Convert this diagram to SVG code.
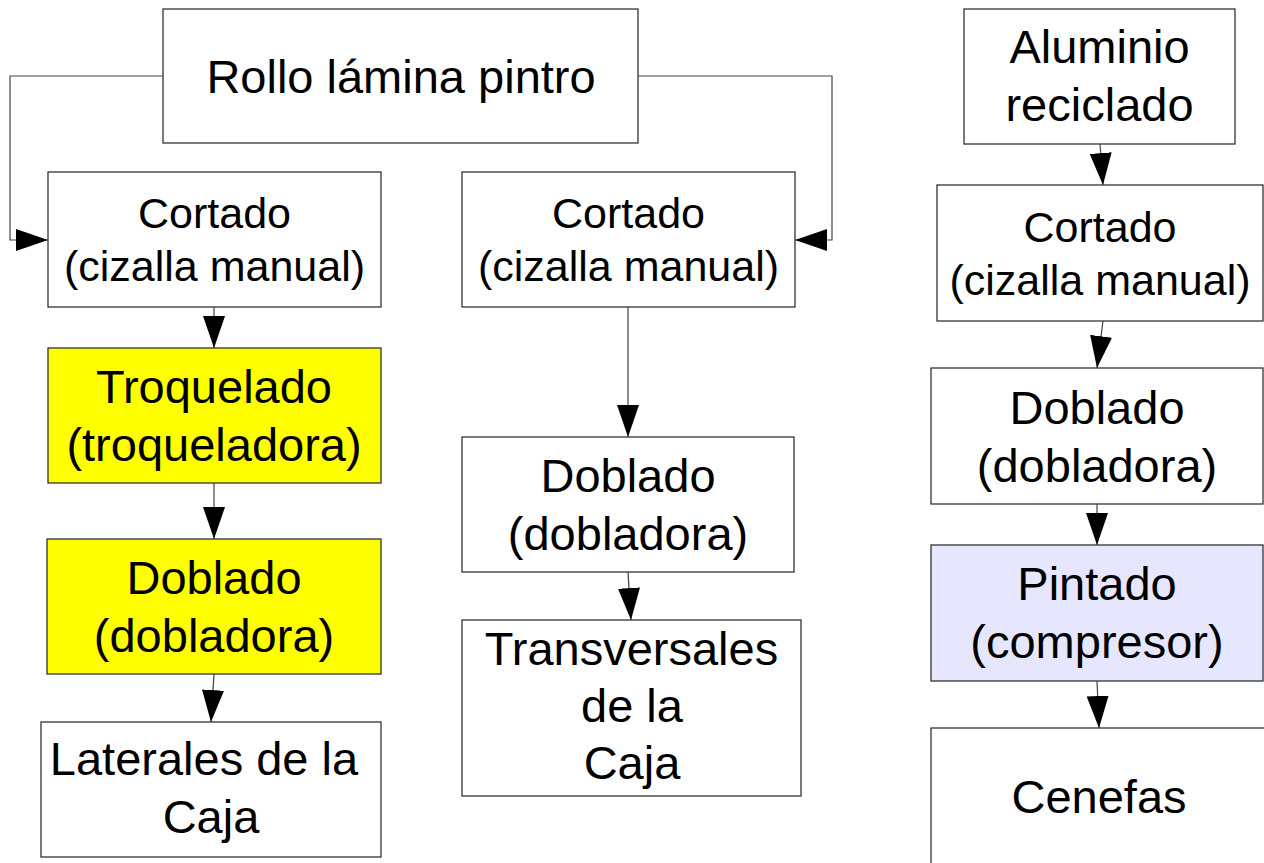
<svg xmlns="http://www.w3.org/2000/svg" width="1264" height="863" viewBox="0 0 1264 863">
<style>
.box{fill:#ffffff;stroke:#333333;stroke-width:1.3}
.yel{fill:#ffff00}
.blu{fill:#e6e6ff}
.t{font-family:"Liberation Sans",Arial,sans-serif;font-size:47px;fill:#000;text-anchor:middle}
.s{font-size:43px}
.c{fill:none;stroke:#444444;stroke-width:1.2}
</style>
<defs>
<marker id="ah" markerUnits="userSpaceOnUse" markerWidth="33" markerHeight="23" refX="32" refY="11" orient="auto">
<path d="M0,0 L32,11 L0,22 z" fill="#000"/>
</marker>
</defs>
<rect width="1264" height="863" fill="#ffffff"/>
<g id="connectors">
<path class="c" d="M163,76 H10 V240 H48" marker-end="url(#ah)"/>
<path class="c" d="M638,76 H832 V240 H795" marker-end="url(#ah)"/>
<line class="c" x1="214" y1="307" x2="214" y2="348" marker-end="url(#ah)"/>
<line class="c" x1="214" y1="483" x2="214" y2="539" marker-end="url(#ah)"/>
<line class="c" x1="214" y1="674" x2="211" y2="722" marker-end="url(#ah)"/>
<line class="c" x1="628" y1="307" x2="628" y2="437" marker-end="url(#ah)"/>
<line class="c" x1="628" y1="572" x2="631" y2="620" marker-end="url(#ah)"/>
<line class="c" x1="1100" y1="144" x2="1103" y2="185" marker-end="url(#ah)"/>
<line class="c" x1="1103" y1="321" x2="1097" y2="368" marker-end="url(#ah)"/>
<line class="c" x1="1097" y1="504" x2="1097" y2="545" marker-end="url(#ah)"/>
<line class="c" x1="1097" y1="681" x2="1099" y2="728" marker-end="url(#ah)"/>
</g>
<g id="rollo">
<rect class="box" x="163" y="9" width="475" height="134"/>
<text class="t" x="401" y="93">Rollo lámina pintro</text>
</g>
<g id="cortado1">
<rect class="box" x="48" y="172" width="333" height="135"/>
<text class="t s" x="214.5" y="228">Cortado</text>
<text class="t s" x="214.5" y="281">(cizalla manual)</text>
</g>
<g id="troquelado">
<rect class="box yel" x="48" y="348" width="333" height="135"/>
<text class="t" x="214" y="403">Troquelado</text>
<text class="t" x="214" y="461">(troqueladora)</text>
</g>
<g id="doblado1">
<rect class="box yel" x="47" y="539" width="334" height="135"/>
<text class="t" x="214" y="594">Doblado</text>
<text class="t" x="214" y="652">(dobladora)</text>
</g>
<g id="laterales">
<rect class="box" x="41" y="722" width="340" height="135"/>
<text class="t" x="204" y="775">Laterales de la</text>
<text class="t" x="211" y="833">Caja</text>
</g>
<g id="cortado2">
<rect class="box" x="462" y="172" width="333" height="135"/>
<text class="t s" x="628.5" y="228">Cortado</text>
<text class="t s" x="628.5" y="281">(cizalla manual)</text>
</g>
<g id="doblado2">
<rect class="box" x="462" y="437" width="332" height="135"/>
<text class="t" x="628" y="492">Doblado</text>
<text class="t" x="628" y="550">(dobladora)</text>
</g>
<g id="transversales">
<rect class="box" x="462" y="620" width="339" height="176"/>
<text class="t" x="631.5" y="665">Transversales</text>
<text class="t" x="632" y="722">de la</text>
<text class="t" x="632" y="779">Caja</text>
</g>
<g id="aluminio">
<rect class="box" x="964" y="9" width="271" height="135"/>
<text class="t" x="1099.5" y="63">Aluminio</text>
<text class="t" x="1099.5" y="121">reciclado</text>
</g>
<g id="cortado3">
<rect class="box" x="937" y="185" width="326" height="136"/>
<text class="t s" x="1100" y="242">Cortado</text>
<text class="t s" x="1100" y="295">(cizalla manual)</text>
</g>
<g id="doblado3">
<rect class="box" x="931" y="368" width="332" height="136"/>
<text class="t" x="1097" y="423.5">Doblado</text>
<text class="t" x="1097" y="481.5">(dobladora)</text>
</g>
<g id="pintado">
<rect class="box blu" x="931" y="545" width="332" height="136"/>
<text class="t" x="1097" y="600">Pintado</text>
<text class="t" x="1097" y="658">(compresor)</text>
</g>
<g id="cenefas">
<rect class="box" x="931" y="728" width="340" height="160"/>
<text class="t" x="1099" y="813">Cenefas</text>
</g>
</svg>
